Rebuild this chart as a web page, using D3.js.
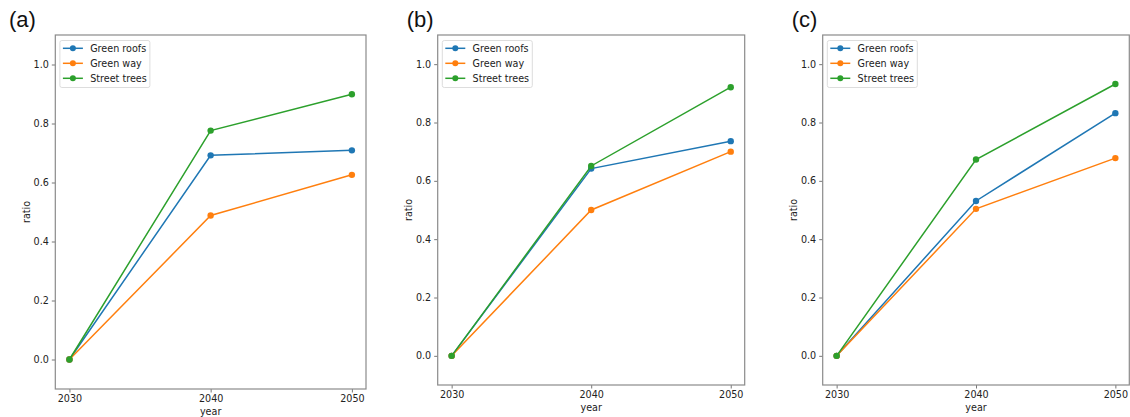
<!DOCTYPE html>
<html>
<head>
<meta charset="utf-8">
<script src="https://cdn.jsdelivr.net/npm/d3@7"></script>
<style>
  body { margin: 0; background: #fff; }
  svg { display: block; font-family: "DejaVu Sans", sans-serif; }
  .tick text { fill: #222; font-size: 9.6px; }
  .tick line { stroke: #777; }
</style>
</head>
<body>
<div id="chart"></div>
<script>
const years = [2030, 2040, 2050];
const seriesNames = ['Green roofs', 'Green way', 'Street trees'];
const seriesColors = ['#1f77b4', '#ff7f0e', '#2ca02c'];
const panelLabels = ['(a)', '(b)', '(c)'];
const yTicks = [0, 0.2, 0.4, 0.6, 0.8, 1.0];

// panel (a)
const greenRoofsA = [0, 0.692, 0.709];
const greenWayA = [0, 0.488, 0.626];
const streetTreesA = [0, 0.776, 0.899];
// panel (b)
const greenRoofsB = [0, 0.642, 0.736];
const greenWayB = [0, 0.500, 0.700];
const streetTreesB = [0, 0.651, 0.921];
// panel (c)
const greenRoofsC = [0, 0.531, 0.832];
const greenWayC = [0, 0.504, 0.678];
const streetTreesC = [0, 0.673, 0.932];

const panelData = [
    [greenRoofsA, greenWayA, streetTreesA],
    [greenRoofsB, greenWayB, streetTreesB],
    [greenRoofsC, greenWayC, streetTreesC]
];

// axes boxes in page pixels
const panelBoxes = [
    {left: 55.3, right: 366, top: 35, bottom: 389, labelX: 9},
    {left: 437.7, right: 744.7, top: 35, bottom: 385, labelX: 406.7},
    {left: 822.7, right: 1129.3, top: 35, bottom: 385, labelX: 791.7}
];

const width = 1130, height = 417;
const tickSize = 3.5;

let svg = d3.select('#chart').append('svg')
    .attr('width', width)
    .attr('height', height);

let drawPanel = function(index) {
    let box = panelBoxes[index];
    let series = panelData[index];

    let x = d3.scaleLinear().domain([2029, 2051]).range([box.left, box.right]);
    let y = d3.scaleLinear().domain([-0.1, 1.1]).range([box.bottom, box.top]);

    let g = svg.append('g');

    g.append('text')
        .attr('x', box.labelX)
        .attr('y', 27)
        .attr('font-family', '"Liberation Sans", Arial, sans-serif')
        .attr('font-size', '22px')
        .attr('fill', '#111')
        .text(panelLabels[index]);

    let xAxis = d3.axisBottom(x).tickValues(years).tickFormat(d3.format('d'))
        .tickSize(tickSize).tickPadding(3);
    g.append('g')
        .attr('transform', 'translate(0,' + box.bottom + ')')
        .call(xAxis)
        .call(a => a.select('.domain').remove());

    let yAxis = d3.axisLeft(y).tickValues(yTicks).tickFormat(d3.format('.1f'))
        .tickSize(tickSize).tickPadding(3);
    g.append('g')
        .attr('transform', 'translate(' + box.left + ',0)')
        .call(yAxis)
        .call(a => a.select('.domain').remove());

    g.selectAll('.tick text').attr('font-family', '"DejaVu Sans", sans-serif');

    g.append('rect')
        .attr('x', box.left)
        .attr('y', box.top)
        .attr('width', box.right - box.left)
        .attr('height', box.bottom - box.top)
        .attr('fill', 'none')
        .attr('stroke', '#8a8a8a')
        .attr('stroke-width', 1.2);

    g.append('text')
        .attr('x', (box.left + box.right) / 2)
        .attr('y', box.bottom + 25.5)
        .attr('text-anchor', 'middle')
        .attr('font-size', '9.6px')
        .attr('fill', '#222')
        .text('year');

    let midY = (box.top + box.bottom) / 2;
    g.append('text')
        .attr('transform', 'translate(' + (box.left - 25.5) + ',' + midY + ') rotate(-90)')
        .attr('text-anchor', 'middle')
        .attr('font-size', '9.6px')
        .attr('fill', '#222')
        .text('ratio');

    let line = d3.line()
        .x((d, i) => x(years[i]))
        .y(d => y(d));

    series.forEach(function(values, s) {
        g.append('path')
            .datum(values)
            .attr('d', line)
            .attr('fill', 'none')
            .attr('stroke', seriesColors[s])
            .attr('stroke-width', 1.5);
        g.selectAll('.dot' + s).data(values).enter().append('circle')
            .attr('cx', (d, i) => x(years[i]))
            .attr('cy', d => y(d))
            .attr('r', 3.2)
            .attr('fill', seriesColors[s]);
    });

    // legend
    let lx = box.left + 4.6;
    let legend = g.append('g');
    legend.append('rect')
        .attr('x', lx)
        .attr('y', box.top + 5.5)
        .attr('width', 90)
        .attr('height', 47)
        .attr('rx', 2)
        .attr('fill', '#fff')
        .attr('fill-opacity', 0.8)
        .attr('stroke', '#ddd')
        .attr('stroke-width', 1);

    seriesNames.forEach(function(name, s) {
        let ly = box.top + 13.3 + s * 15;
        legend.append('line')
            .attr('x1', lx + 3).attr('x2', lx + 23)
            .attr('y1', ly).attr('y2', ly)
            .attr('stroke', seriesColors[s])
            .attr('stroke-width', 1.5);
        legend.append('circle')
            .attr('cx', lx + 13).attr('cy', ly).attr('r', 3)
            .attr('fill', seriesColors[s]);
        legend.append('text')
            .attr('x', lx + 30.3)
            .attr('y', ly)
            .attr('dy', '0.35em')
            .attr('font-size', '9.6px')
            .attr('fill', '#222')
            .text(name);
    });
}

panelBoxes.forEach(function(box, index) {
    drawPanel(index);
});
</script>
</body>
</html>
